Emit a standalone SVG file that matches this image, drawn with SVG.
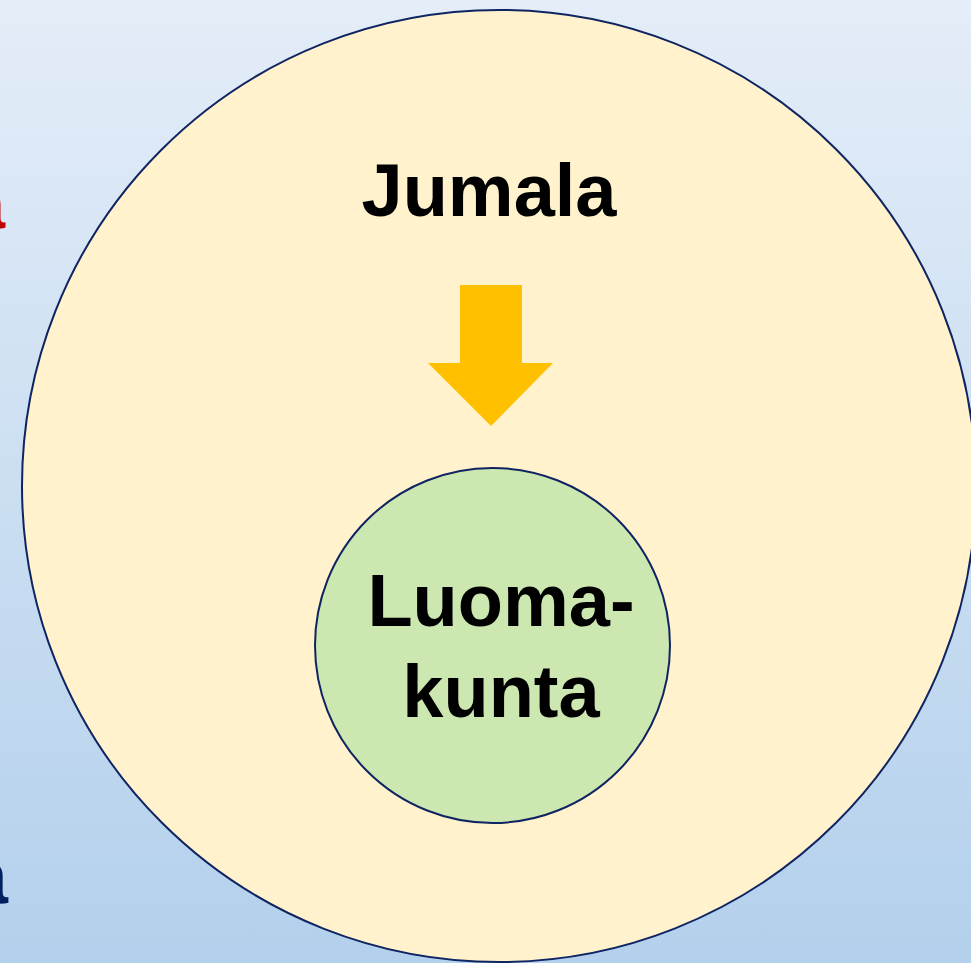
<svg xmlns="http://www.w3.org/2000/svg" width="971" height="963" viewBox="0 0 971 963">
  <defs>
    <linearGradient id="bg" x1="0" y1="0" x2="0" y2="1">
      <stop offset="0" stop-color="#e4edf8"/>
      <stop offset="1" stop-color="#b3d0ec"/>
    </linearGradient>
  </defs>
  <style>
    .lbl { font-family: "Liberation Sans", Arial, sans-serif; font-weight: bold; font-size: 74px; fill: #000000; text-anchor: middle; }
    .ring { stroke: #0f2462; stroke-width: 2; }
  </style>
  <rect x="0" y="0" width="971" height="963" fill="url(#bg)"/>
  <text x="5" y="228" font-family="Liberation Sans, Arial, sans-serif" font-weight="bold" font-size="68" fill="#c00000" text-anchor="end">a</text>
  <text x="8" y="903" font-family="Liberation Sans, Arial, sans-serif" font-weight="bold" font-size="78" fill="#002060" text-anchor="end">a</text>
  <g id="jumala">
    <ellipse class="ring" cx="499" cy="486" rx="477" ry="476" fill="#fff2cc"/>
    <text class="lbl" x="489" y="216">Jumala</text>
  </g>
  <g id="connectors">
    <polygon points="460,285 522,285 522,363 553,363 491,426 428,363 460,363" fill="#ffc000"/>
  </g>
  <g id="luomakunta">
    <circle class="ring" cx="492.5" cy="645.5" r="177.5" fill="#cce7af"/>
    <text class="lbl" x="501" y="626">Luoma-</text>
    <text class="lbl" x="501" y="717">kunta</text>
  </g>
</svg>
